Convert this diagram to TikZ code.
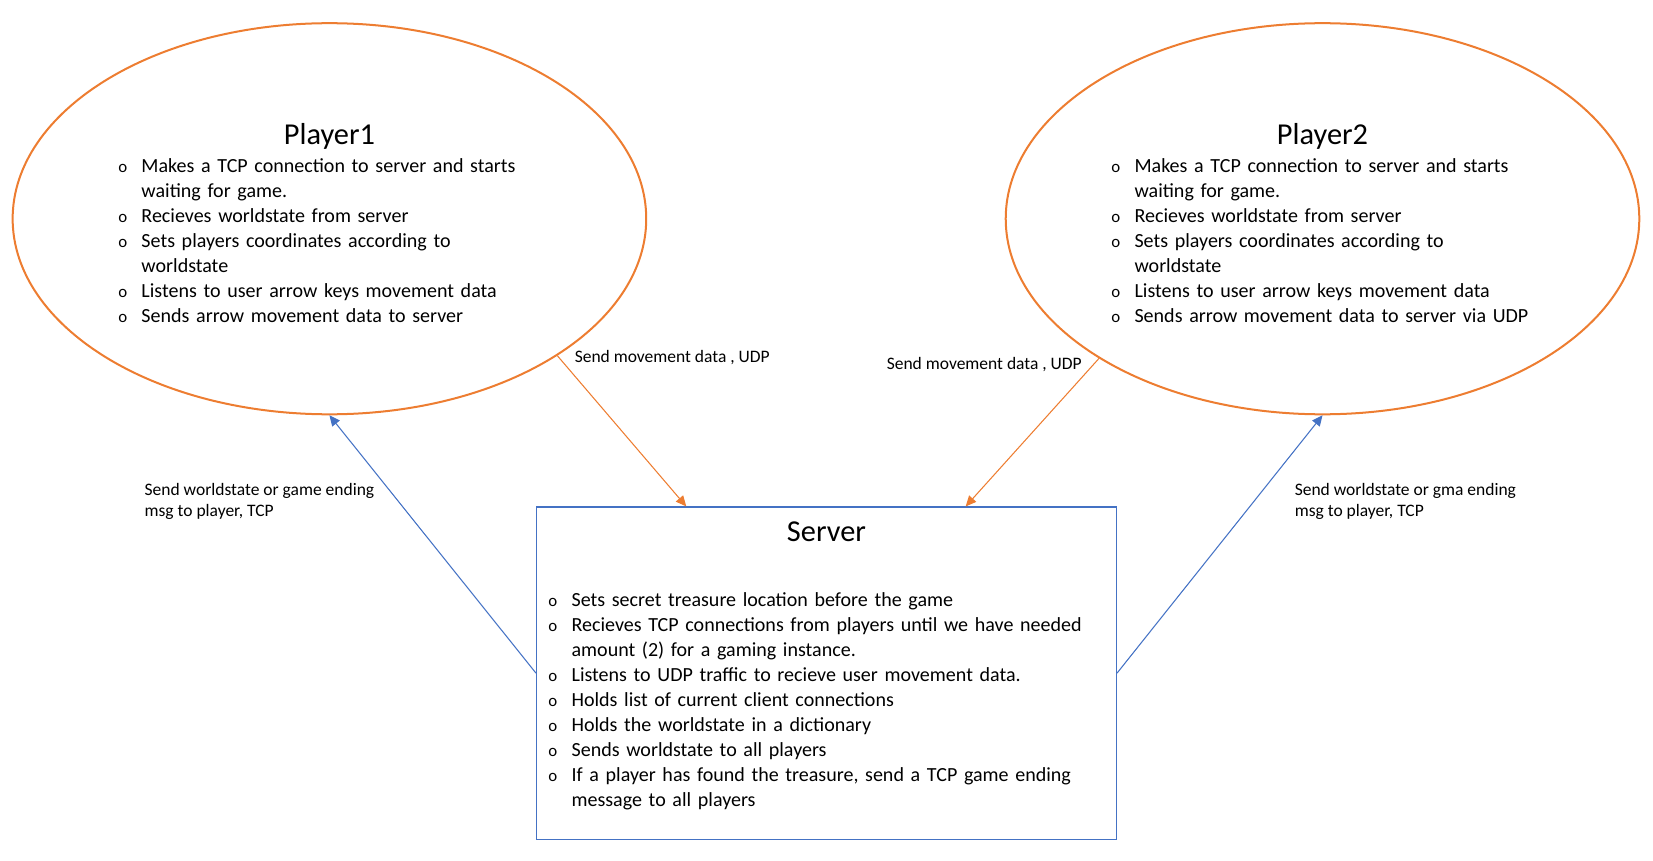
\documentclass[tikz,border=0pt]{standalone}
\usepackage{fontspec}
\setmainfont{Carlito}
\usetikzlibrary{shapes.geometric,arrows.meta}
\definecolor{orng}{HTML}{ED7D31}
\definecolor{blu}{HTML}{4472C4}
\newcommand{\bitem}[1]{\hangindent=22pt\hangafter=1\noindent\hbox to 22pt{\fontsize{16}{20}\selectfont o\hfil}#1\par}
\begin{document}
\begin{tikzpicture}[x=1pt, y=-1pt,
    player/.style={draw=orng, line width=1.9pt, ellipse, minimum width=601pt, minimum height=371pt, inner sep=0pt},
    serverbox/.style={draw=blu, line width=1.2pt, minimum width=550pt, minimum height=315pt, inner sep=0pt},
    title/.style={font=\fontsize{28.8}{34}\selectfont},
    bullets/.style={font=\fontsize{19}{23.7}\selectfont, text width=520pt, align=left, inner sep=0pt, anchor=north west},
    lbl/.style={font=\fontsize{16.6}{20}\selectfont, align=left, inner sep=0pt, anchor=base west},
    udp/.style={draw=orng, line width=1pt, -{Triangle[width=9pt,length=10pt]}},
    tcp/.style={draw=blu, line width=1pt, -{Triangle[width=9pt,length=10pt]}}]
	\useasboundingbox (0,0) rectangle (1568,816);
	% Define shapes
	\node[player] at (312.5, 207.5) (p1) {};
	\node[player] at (1254.5, 207.5) (p2) {};
	\node[serverbox] at (784, 638.5) (server) {};
	
	\node[title] at (312.5, 129.5) (p1_title) {Player1};
	\node[title] at (1254.5, 129.5) (p2_title) {Player2};
	\node[title] at (784, 504.5) (server_title) {Server};
	
	\node[bullets] at (112, 150) (p1_list) {%
		\bitem{Makes a TCP connection to server and starts\newline waiting for game.}
		\bitem{Recieves worldstate from server}
		\bitem{Sets players coordinates according to\newline worldstate}
		\bitem{Listens to user arrow keys movement data}
		\bitem{Sends arrow movement data to server}};
	\node[bullets] at (1054, 150) (p2_list) {%
		\bitem{Makes a TCP connection to server and starts\newline waiting for game.}
		\bitem{Recieves worldstate from server}
		\bitem{Sets players coordinates according to\newline worldstate}
		\bitem{Listens to user arrow keys movement data}
		\bitem{Sends arrow movement data to server via UDP}};
	\node[bullets] at (520, 562) (server_list) {%
		\bitem{Sets secret treasure location before the game}
		\bitem{Recieves TCP connections from players until we have needed\newline amount (2) for a gaming instance.}
		\bitem{Listens to UDP traffic to recieve user movement data.}
		\bitem{Holds list of current client connections}
		\bitem{Holds the worldstate in a dictionary}
		\bitem{Sends worldstate to all players}
		\bitem{If a player has found the treasure, send a TCP game ending\newline message to all players}};
	
	\coordinate (s_in1) at ([xshift=-133pt]server.north);
	\coordinate (s_in2) at ([xshift=132pt]server.north);
	% Draw connections
	\draw[udp] (p1.-31.7) -- (s_in1);
	\draw[udp] (p2.-148.2) -- (s_in2);
	\draw[tcp] (server.west) -- (p1.south);
	\draw[tcp] (server.east) -- (p2.south);
	
	\node[lbl] at (545, 343.8) (l_udp1) {Send movement data , UDP};
	\node[lbl] at (841, 350.5) (l_udp2) {Send movement data , UDP};
	\node[lbl] at (137, 490.4) (l_tcp1) {Send worldstate or game ending\\msg to player, TCP};
	\node[lbl] at (1228, 490.4) (l_tcp2) {Send worldstate or gma ending\\msg to player, TCP};
\end{tikzpicture}
\end{document}
